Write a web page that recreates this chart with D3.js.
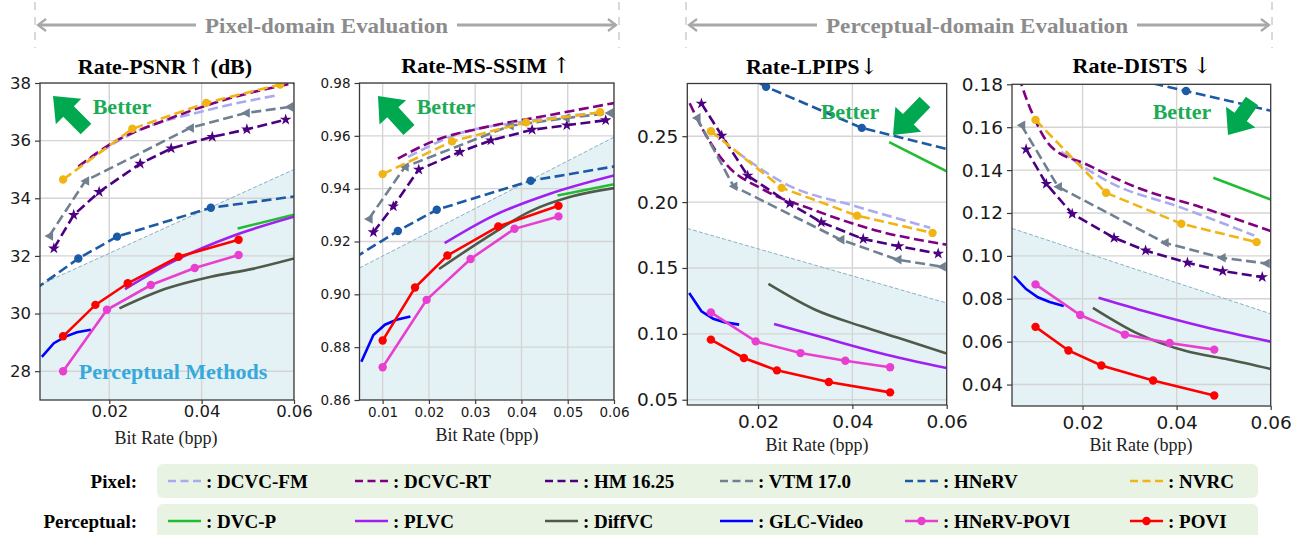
<!DOCTYPE html>
<html>
<head>
<meta charset="utf-8">
<script src="https://cdn.jsdelivr.net/npm/d3@7"></script>
<style>
  body { margin: 0; background: #fff; }
  svg { display: block; }
</style>
</head>
<body>
<div id="chart"></div>
<script>
const width = 1300
const height = 535

// TICKS
const psnrTicks = [28, 30, 32, 34, 36, 38]
const msssimTicks = [0.86, 0.88, 0.9, 0.92, 0.94, 0.96, 0.98]
const lpipsTicks = [0.05, 0.1, 0.15, 0.2, 0.25]
const distsTicks = [0.04, 0.06, 0.08, 0.1, 0.12, 0.14, 0.16, 0.18]
const rateTicksWide = [0.02, 0.04, 0.06]
const rateTicksFine = [0.01, 0.02, 0.03, 0.04, 0.05, 0.06]

// PERCEPTUAL REGION BOUNDARY (left / right end of the dashed line)
const shadeRate = [0.005, 0.06]
const psnrShade = [31.0, 35.0]
const msssimShade = [0.91, 0.9595]
const lpipsShade = [0.18, 0.1234]
const distsShade = [0.1128, 0.073]

// PIXEL-DOMAIN CODECS
const dcvcFmRate = [0.0155, 0.026, 0.041, 0.0565]
const dcvcFmPsnr = [35.35, 36.33, 37.05, 37.58]
const dcvcFmMsssim = [0.952, 0.9605, 0.9655, 0.9687]
const dcvcFmLpips = [0.238, 0.2135, 0.1965, 0.1805]
const dcvcFmDists = [0.1485, 0.134, 0.1225, 0.1095]

const dcvcRtRate = [0.0055, 0.009, 0.0133, 0.021, 0.032, 0.045, 0.06]
const dcvcRtPsnr = [null, null, 35.1, 35.95, 36.7, 37.42, 38.0]
const dcvcRtMsssim = [null, null, 0.9514, 0.958, 0.9632, 0.9675, 0.9724]
const dcvcRtLpips = [0.275, 0.2505, 0.2285, 0.2097, 0.1938, 0.1785, 0.1677]
const dcvcRtDists = [0.19, 0.168, 0.151, 0.1425, 0.1315, 0.1228, 0.1116]

const hmRate = [0.008, 0.0123, 0.0178, 0.0267, 0.0334, 0.0423, 0.0498, 0.0582]
const hmPsnr = [32.26, 33.42, 34.22, 35.2, 35.73, 36.13, 36.39, 36.73]
const hmMsssim = [0.9235, 0.9333, 0.9472, 0.9539, 0.9583, 0.9623, 0.964, 0.9659]
const hmLpips = [0.2748, 0.2505, 0.2201, 0.1989, 0.1847, 0.172, 0.1665, 0.1609]
const hmDists = [0.1497, 0.1336, 0.1196, 0.1084, 0.1025, 0.0968, 0.0929, 0.0901]

const vtmRate = [0.007, 0.0148, 0.0375, 0.0496, 0.059]
const vtmPsnr = [32.69, 34.6, 36.44, 36.96, 37.17]
const vtmMsssim = [0.9285, 0.9482, 0.9638, 0.9667, 0.9686]
const vtmLpips = [0.2639, 0.212, 0.1715, 0.1563, 0.151]
const vtmDists = [0.1609, 0.1322, 0.1061, 0.0991, 0.0965]

const hnervRate = [0.004, 0.0133, 0.0217, 0.042, 0.075]
const hnervPsnr = [30.85, 31.91, 32.67, 33.67, 34.39]
const hnervMsssim = [0.9139, 0.924, 0.932, 0.943, 0.9529]
const hnervLpips = [0.34, 0.305, 0.2875, 0.2563, 0.227]
const hnervDists = [0.22, 0.2, 0.187, 0.1769, 0.16]

const nvrcRate = [0.01, 0.025, 0.041, 0.057]
const nvrcPsnr = [34.65, 36.41, 37.31, 37.95]
const nvrcMsssim = [0.9455, 0.9579, 0.9651, 0.9689]
const nvrcLpips = [0.2538, 0.2108, 0.1897, 0.1766]
const nvrcDists = [0.1634, 0.1294, 0.115, 0.1064]

// PERCEPTUAL CODECS
const dvcpRate = [0.0478, 0.06]
const dvcpPsnr = [32.95, 33.43]
const dvcpMsssim = [0.9374, 0.9417]
const dvcpLpips = [0.2455, 0.2234]
const dvcpDists = [0.1364, 0.1263]

const plvcRate = [0.0234, 0.034, 0.046, 0.06]
const plvcPsnr = [30.85, 31.82, 32.65, 33.36]
const plvcMsssim = [0.9194, 0.9298, 0.938, 0.945]
const plvcLpips = [0.1075, 0.097, 0.0853, 0.074]
const plvcDists = [0.0805, 0.0737, 0.0668, 0.06]

const diffvcRate = [0.0222, 0.032, 0.042, 0.051, 0.06]
const diffvcPsnr = [30.18, 30.85, 31.28, 31.55, 31.91]
const diffvcMsssim = [0.9096, 0.921, 0.9315, 0.9371, 0.9402]
const diffvcLpips = [0.1379, 0.1185, 0.1057, 0.0955, 0.085]
const diffvcDists = [0.0758, 0.0635, 0.0556, 0.0517, 0.0473]

const glcRate = [0.0054, 0.008, 0.0105, 0.013, 0.016]
const glcPsnr = [28.5, 28.97, 29.2, 29.35, 29.44]
const glcMsssim = [0.8745, 0.8846, 0.8885, 0.8904, 0.8916]
const glcLpips = [0.131, 0.1171, 0.1115, 0.1087, 0.107]
const glcDists = [0.0906, 0.0845, 0.0807, 0.0785, 0.0766]

const hnervPoviRate = [0.01, 0.0195, 0.029, 0.0385, 0.048]
const hnervPoviPsnr = [28.0, 30.13, 30.99, 31.58, 32.03]
const hnervPoviMsssim = [0.8724, 0.8979, 0.9134, 0.9248, 0.9295]
const hnervPoviLpips = [0.1163, 0.0943, 0.0854, 0.0796, 0.0746]
const hnervPoviDists = [0.0867, 0.0724, 0.0633, 0.0594, 0.0563]

const poviRate = [0.01, 0.017, 0.024, 0.035, 0.048]
const poviPsnr = [29.21, 30.3, 31.05, 31.97, 32.56]
const poviMsssim = [0.8825, 0.9026, 0.9147, 0.9257, 0.9335]
const poviLpips = [0.0956, 0.0817, 0.0723, 0.0634, 0.0556]
const poviDists = [0.0669, 0.0559, 0.0489, 0.0419, 0.0349]

const series = [
  { name: "DCVC-FM", group: "Pixel", rate: dcvcFmRate, psnr: dcvcFmPsnr, msssim: dcvcFmMsssim, lpips: dcvcFmLpips, dists: dcvcFmDists },
  { name: "DCVC-RT", group: "Pixel", rate: dcvcRtRate, psnr: dcvcRtPsnr, msssim: dcvcRtMsssim, lpips: dcvcRtLpips, dists: dcvcRtDists },
  { name: "HM 16.25", group: "Pixel", rate: hmRate, psnr: hmPsnr, msssim: hmMsssim, lpips: hmLpips, dists: hmDists },
  { name: "VTM 17.0", group: "Pixel", rate: vtmRate, psnr: vtmPsnr, msssim: vtmMsssim, lpips: vtmLpips, dists: vtmDists },
  { name: "HNeRV", group: "Pixel", rate: hnervRate, psnr: hnervPsnr, msssim: hnervMsssim, lpips: hnervLpips, dists: hnervDists },
  { name: "NVRC", group: "Pixel", rate: nvrcRate, psnr: nvrcPsnr, msssim: nvrcMsssim, lpips: nvrcLpips, dists: nvrcDists },
  { name: "DVC-P", group: "Perceptual", rate: dvcpRate, psnr: dvcpPsnr, msssim: dvcpMsssim, lpips: dvcpLpips, dists: dvcpDists },
  { name: "PLVC", group: "Perceptual", rate: plvcRate, psnr: plvcPsnr, msssim: plvcMsssim, lpips: plvcLpips, dists: plvcDists },
  { name: "DiffVC", group: "Perceptual", rate: diffvcRate, psnr: diffvcPsnr, msssim: diffvcMsssim, lpips: diffvcLpips, dists: diffvcDists },
  { name: "GLC-Video", group: "Perceptual", rate: glcRate, psnr: glcPsnr, msssim: glcMsssim, lpips: glcLpips, dists: glcDists },
  { name: "HNeRV-POVI", group: "Perceptual", rate: hnervPoviRate, psnr: hnervPoviPsnr, msssim: hnervPoviMsssim, lpips: hnervPoviLpips, dists: hnervPoviDists },
  { name: "POVI", group: "Perceptual", rate: poviRate, psnr: poviPsnr, msssim: poviMsssim, lpips: poviLpips, dists: poviDists },
]

// STYLES
const styles = {
  "DCVC-FM": { color: "#aaaaee", dash: true, marker: null, smooth: true },
  "DCVC-RT": { color: "#800080", dash: true, marker: null, smooth: true },
  "HM 16.25": { color: "#4b0082", dash: true, marker: "star" },
  "VTM 17.0": { color: "#708090", dash: true, marker: "tri" },
  "HNeRV": { color: "#1c5aa6", dash: true, marker: "circle" },
  "NVRC": { color: "#f0b414", dash: true, marker: "circle" },
  "DVC-P": { color: "#22bb33", dash: false, marker: null },
  "PLVC": { color: "#a020f0", dash: false, marker: null, smooth: true },
  "DiffVC": { color: "#4f5a4a", dash: false, marker: null, smooth: true },
  "GLC-Video": { color: "#0000ff", dash: false, marker: null },
  "HNeRV-POVI": { color: "#e83fd1", dash: false, marker: "circle" },
  "POVI": { color: "#ff0000", dash: false, marker: "circle" },
}

// title = [text, arrow glyph, trailing text]
const panels = [
  { key: "psnr", title: ["Rate-PSNR", "↑", " (dB)"], left: 40, right: 294, top: 83, bottom: 400, yDomain: [27, 38],
    yTicks: psnrTicks, xTicks: rateTicksWide, yFmt: d3.format("d"), font: 16.5, xPad: 1.5,
    shade: psnrShade, titleX: 165, titleY: 74, xLabelX: 166, xLabelY: 444,
    arrow: { tip: [53, 96], tail: [86, 129] }, betterX: 122, betterY: 114 },
  { key: "msssim", title: ["Rate-MS-SSIM ", "↑", ""], left: 359.5, right: 614, top: 83, bottom: 400, yDomain: [0.86, 0.98],
    yTicks: msssimTicks, xTicks: rateTicksFine, yFmt: d3.format(".2f"), font: 13.5, xPad: 3.5,
    shade: msssimShade, titleX: 486, titleY: 73, xLabelX: 487, xLabelY: 441,
    arrow: { tip: [378, 96], tail: [409, 130] }, betterX: 446, betterY: 114 },
  { key: "lpips", title: ["Rate-LPIPS", "↓", ""], left: 687.3, right: 946.7, top: 83.5, bottom: 405, yDomain: [0.046, 0.29],
    yTicks: lpipsTicks, xTicks: rateTicksWide, yFmt: d3.format(".2f"), font: 18.5, xPad: 6,
    shade: lpipsShade, titleX: 812, titleY: 74, xLabelX: 817, xLabelY: 451,
    arrow: { tip: [893, 135], tail: [925, 102] }, betterX: 850, betterY: 119 },
  { key: "dists", title: ["Rate-DISTS ", "↓", ""], left: 1012, right: 1270.7, top: 84.3, bottom: 406, yDomain: [0.03, 0.18],
    yTicks: distsTicks, xTicks: rateTicksWide, yFmt: d3.format(".2f"), font: 18.5, xPad: 6,
    shade: distsShade, titleX: 1142, titleY: 73, xLabelX: 1141, xLabelY: 451,
    arrow: { tip: [1228, 135], tail: [1252, 101] }, betterX: 1182, betterY: 119 },
]

const serif = "'Liberation Serif', 'Times New Roman', serif"
const sans = "'DejaVu Sans', sans-serif"

const svg = d3
  .select("#chart")
  .append("svg")
  .attr("width", width)
  .attr("height", height)
  .attr("viewBox", [0, 0, width, height])

// MARKERS
const triLeft = (r) => `M${-r},0L${r * 0.8},${-r}L${r * 0.8},${r}Z`
function drawMarker(g, kind, cx, cy, color) {
  if (kind === "circle") {
    g.append("circle").attr("cx", cx).attr("cy", cy).attr("r", 4.2).attr("fill", color)
  } else if (kind === "star") {
    g.append("path")
      .attr("d", d3.symbol(d3.symbolStar, 42)())
      .attr("transform", `translate(${cx},${cy})`)
      .attr("fill", color)
  } else if (kind === "tri") {
    g.append("path")
      .attr("d", triLeft(4.8))
      .attr("transform", `translate(${cx},${cy})`)
      .attr("fill", color)
  }
}

// BLOCK ARROW ("Better")
function blockArrow(tail, tip, shaft = 15, headW = 36, headL = 22) {
  const dx = tip[0] - tail[0], dy = tip[1] - tail[1]
  const len = Math.hypot(dx, dy)
  const ux = dx / len, uy = dy / len
  const px = -uy, py = ux
  const bx = tip[0] - ux * headL, by = tip[1] - uy * headL
  return [
    [tail[0] + px * shaft / 2, tail[1] + py * shaft / 2],
    [bx + px * shaft / 2, by + py * shaft / 2],
    [bx + px * headW / 2, by + py * headW / 2],
    tip,
    [bx - px * headW / 2, by - py * headW / 2],
    [bx - px * shaft / 2, by - py * shaft / 2],
    [tail[0] - px * shaft / 2, tail[1] - py * shaft / 2],
  ]
}

panels.forEach((p) => {
  const x = d3.scaleLinear().domain([0.005, 0.06]).range([p.left, p.right])
  const y = d3.scaleLinear().domain(p.yDomain).range([p.bottom, p.top])
  const g = svg.append("g").attr("class", "panel-" + p.key)

  const clipId = "clip-" + p.key
  svg.append("clipPath").attr("id", clipId)
    .append("rect")
    .attr("x", p.left).attr("y", p.top)
    .attr("width", p.right - p.left).attr("height", p.bottom - p.top)

  const plot = g.append("g").attr("clip-path", `url(#${clipId})`)

  // shaded perceptual region
  const shadeData = shadeRate.map((r, i) => [r, p.shade[i]])
  plot.append("path")
    .datum(shadeData)
    .attr("d", d3.area().x((d) => x(d[0])).y0(p.bottom).y1((d) => y(d[1])))
    .attr("fill", "#e5f2f5")

  // grid
  plot.selectAll(".gx").data(p.xTicks).join("line")
    .attr("x1", (d) => x(d)).attr("x2", (d) => x(d))
    .attr("y1", p.top).attr("y2", p.bottom)
    .attr("stroke", "#d4d4d4").attr("stroke-width", 1.4)
  plot.selectAll(".gy").data(p.yTicks).join("line")
    .attr("x1", p.left).attr("x2", p.right)
    .attr("y1", (d) => y(d)).attr("y2", (d) => y(d))
    .attr("stroke", "#d4d4d4").attr("stroke-width", 1.4)

  plot.append("path")
    .datum(shadeData)
    .attr("d", d3.line().x((d) => x(d[0])).y((d) => y(d[1])))
    .attr("fill", "none")
    .attr("stroke", "#8ab0c4")
    .attr("stroke-width", 1)
    .attr("stroke-dasharray", "4,2")

  // curves
  series.forEach((s) => {
    const st = styles[s.name]
    const vals = s[p.key]
    const pts = s.rate.map((r, i) => [r, vals[i]]).filter((d) => d[1] != null)
    const line = d3.line()
      .x((d) => x(d[0]))
      .y((d) => y(d[1]))
      .curve(st.smooth ? d3.curveMonotoneX : d3.curveLinear)
    plot.append("path")
      .datum(pts)
      .attr("d", line)
      .attr("fill", "none")
      .attr("stroke", st.color)
      .attr("stroke-width", 2.6)
      .attr("stroke-dasharray", st.dash ? "10,4.5" : null)
    if (st.marker) {
      pts.forEach((d) => drawMarker(plot, st.marker, x(d[0]), y(d[1]), st.color))
    }
  })

  // frame
  g.append("rect")
    .attr("x", p.left).attr("y", p.top)
    .attr("width", p.right - p.left).attr("height", p.bottom - p.top)
    .attr("fill", "none").attr("stroke", "#3a3a3a").attr("stroke-width", 1.3)

  // axes
  const yAxis = g.append("g")
    .attr("transform", `translate(${p.left},0)`)
    .call(d3.axisLeft(y).tickValues(p.yTicks).tickFormat(p.yFmt).tickSize(5).tickPadding(4))
  const xAxis = g.append("g")
    .attr("transform", `translate(0,${p.bottom})`)
    .call(d3.axisBottom(x).tickValues(p.xTicks).tickFormat(d3.format(".2f")).tickSize(4).tickPadding(p.xPad))
  ;[yAxis, xAxis].forEach((a) => {
    a.select(".domain").remove()
    a.selectAll("line").attr("stroke", "#3a3a3a").attr("stroke-width", 1.2)
    a.selectAll("text")
      .style("font-family", sans)
      .style("font-size", p.font + "px")
      .attr("fill", "#1a1a1a")
  })

  // titles
  const title = g.append("text")
    .attr("x", p.titleX).attr("y", p.titleY)
    .attr("text-anchor", "middle")
    .style("font-family", serif).style("font-weight", "bold").style("font-size", "22px")
    .attr("fill", "#000")
  title.append("tspan").text(p.title[0])
  title.append("tspan")
    .style("font-family", "'DejaVu Serif', serif").style("font-weight", "normal")
    .attr("fill", "#000")
    .text(p.title[1])
  if (p.title[2]) title.append("tspan").text(p.title[2])

  g.append("text")
    .attr("x", p.xLabelX).attr("y", p.xLabelY)
    .attr("text-anchor", "middle")
    .style("font-family", serif).style("font-size", "18px")
    .attr("fill", "#222")
    .text("Bit Rate (bpp)")

  // Better
  g.append("path")
    .attr("d", d3.line()(blockArrow(p.arrow.tail, p.arrow.tip)) + "Z")
    .attr("fill", "#00a84f")
  g.append("text")
    .attr("x", p.betterX).attr("y", p.betterY)
    .attr("text-anchor", "middle")
    .style("font-family", serif).style("font-weight", "bold").style("font-size", "22px")
    .attr("fill", "#1bab55")
    .text("Better")
})

svg.append("text")
  .attr("x", 173).attr("y", 379)
  .attr("text-anchor", "middle")
  .style("font-family", serif).style("font-weight", "bold").style("font-size", "22px")
  .attr("fill", "#35a9dc")
  .text("Perceptual Methods")

// HEADER BRACKETS
const headers = [
  { text: "Pixel-domain Evaluation", x0: 35, x1: 619, cx: 326.5, tw: 243 },
  { text: "Perceptual-domain Evaluation", x0: 686, x1: 1272, cx: 977, tw: 302 },
]
const hy = 25
headers.forEach((h) => {
  const hg = svg.append("g")
  ;[h.x0, h.x1].forEach((vx) => {
    hg.append("line")
      .attr("x1", vx).attr("x2", vx).attr("y1", 2).attr("y2", 48)
      .attr("stroke", "#b4b4b4").attr("stroke-width", 1).attr("stroke-dasharray", "8,7")
  })
  const tStart = h.cx - h.tw / 2, tEnd = h.cx + h.tw / 2
  hg.append("line").attr("x1", h.x0 + 3).attr("x2", tStart - 9).attr("y1", hy).attr("y2", hy)
    .attr("stroke", "#a8a8a8").attr("stroke-width", 3.2)
  hg.append("line").attr("x1", tEnd + 9).attr("x2", h.x1 - 3).attr("y1", hy).attr("y2", hy)
    .attr("stroke", "#a8a8a8").attr("stroke-width", 3.2)
  hg.append("path")
    .attr("d", `M${h.x0 + 11},${hy - 6}L${h.x0 + 3},${hy}L${h.x0 + 11},${hy + 6}`)
    .attr("fill", "none").attr("stroke", "#a8a8a8").attr("stroke-width", 2.2)
  hg.append("path")
    .attr("d", `M${h.x1 - 11},${hy - 6}L${h.x1 - 3},${hy}L${h.x1 - 11},${hy + 6}`)
    .attr("fill", "none").attr("stroke", "#a8a8a8").attr("stroke-width", 2.2)
  hg.append("text")
    .attr("x", h.cx).attr("y", hy + 7.5)
    .attr("text-anchor", "middle")
    .attr("textLength", h.tw).attr("lengthAdjust", "spacingAndGlyphs")
    .style("font-family", serif).style("font-weight", "bold").style("font-size", "22px")
    .attr("fill", "#8c8c8c")
    .text(h.text)
})

// LEGEND
const legendCols = [168, 355, 545, 720, 905, 1130]
const legendRows = [
  { label: "Pixel:", group: "Pixel", y: 481, boxY: 464, boxH: 34 },
  { label: "Perceptual:", group: "Perceptual", y: 521, boxY: 504, boxH: 40 },
]
legendRows.forEach((row) => {
  const lg = svg.append("g")
  lg.append("rect")
    .attr("x", 157).attr("y", row.boxY).attr("width", 1101).attr("height", row.boxH)
    .attr("rx", 6).attr("fill", "#e8f3e3")
  lg.append("text")
    .attr("x", 137).attr("y", row.y + 6.5)
    .attr("text-anchor", "end")
    .style("font-family", serif).style("font-weight", "bold").style("font-size", "19px")
    .text(row.label)
  series.filter((s) => s.group === row.group).forEach((s, i) => {
    const st = styles[s.name]
    const lx = legendCols[i]
    lg.append("line")
      .attr("x1", lx).attr("x2", lx + 33).attr("y1", row.y).attr("y2", row.y)
      .attr("stroke", st.color).attr("stroke-width", 2.6)
      .attr("stroke-dasharray", st.dash ? "8,4.5" : null)
    if (row.group === "Perceptual" && st.marker) {
      drawMarker(lg, st.marker, lx + 16.5, row.y, st.color)
    }
    lg.append("text")
      .attr("x", lx + 38).attr("y", row.y + 6.5)
      .style("font-family", serif).style("font-weight", "bold").style("font-size", "19px")
      .text(": " + s.name)
  })
})
</script>
</body>
</html>
